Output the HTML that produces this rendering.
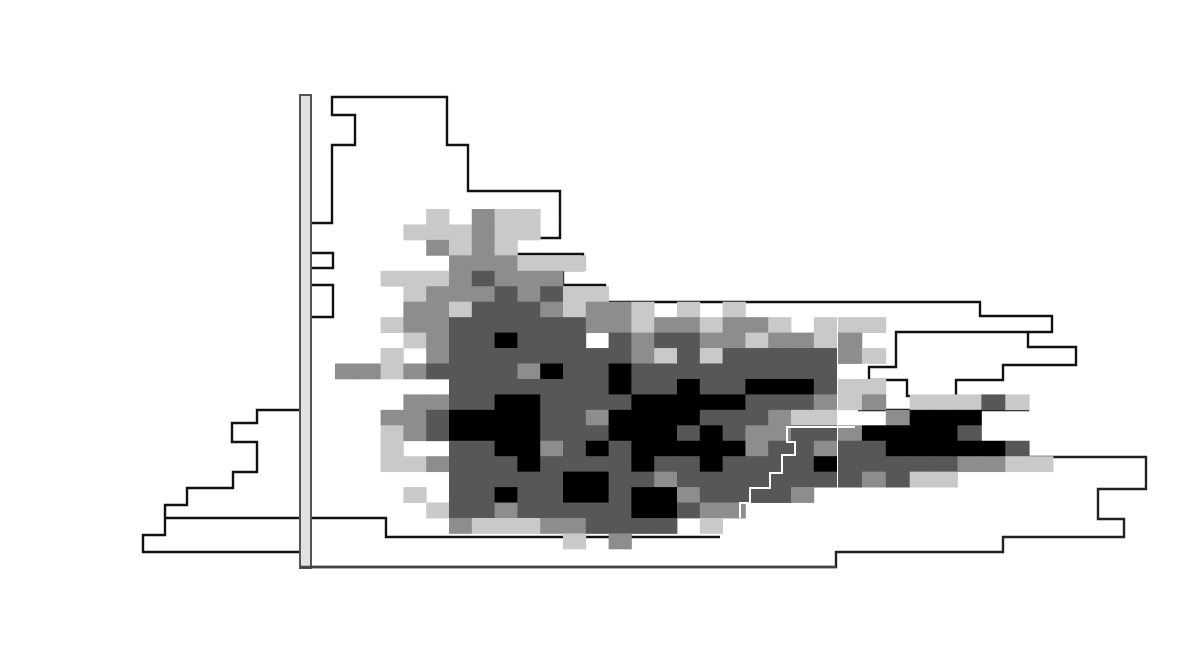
<!DOCTYPE html>
<html><head><meta charset="utf-8">
<style>
html,body{margin:0;padding:0;background:#fff;}
svg{display:block;}
</style></head>
<body>
<svg id="chart" width="1200" height="650" viewBox="0 0 1200 650">
  <rect x="0" y="0" width="1200" height="650" fill="#fff"/>
  <g id="outlines"></g>
  <g id="cells"></g>
  <g id="over"></g>
</svg>
<script>
// ---- heatmap data (levels 0..4 per cell) ----
const gridARows = [
"0000102110000000000000",
"0001112110000000000000",
"0000212100000000000000",
"0000022211100000000000",
"0011123222000000000000",
"0001222323110000000000",
"0002213332122101010000",
"0012233333322122122101",
"0001233433303233221221",
"0010233333333213133333",
"2212333324334333333333",
"0000033333334334334443",
"0002233443333444443332",
"0022344443324444333211",
"0012344443334443432233",
"0010033442343444442332",
"0011233343333433433334",
"0000033333443323333333",
"0001033433443442333320",
"0000133233333443220000",
"0000021112233330100000",
"0000000000102000000000"
];
const gridBStartRow = 7;
const gridBRows = [
"110000000",
"200000000",
"210000000",
"000000000",
"110000000",
"120111310",
"002444000",
"244443000",
"334444430",
"333332211",
"323110000"
];
const levelColors = ["none","#c9c9c9","#8d8d8d","#575757","#000000"];

// ---- marginal histogram data (bin edges and extents, in axis units) ----
const leftHistEdges = [410,423,442,472,488,505,518,535,552];
const leftHistLengths = [43,68,43,67,113,135,135,157];
const rightHistEdges = [97,145,191,238,254,270,285,302,316,332,347,365,380,396,410];
const rightHistExtents = [136,157,249,204,272,252,294,669,741,717,765,692,645,717];
const bottomHistEdges = [442,457,489,519,537,552,567];
const bottomHistExtents = [696,835,787,813,692,525,0];
const lowerHistEdges = [518,537];
const lowerHistExtents = [75,409];
const innerStepEdges = [332,367,380,396,410];
const innerStepExtents = [585,558,596,624];

// ---- axis functions ----
const AX = {x0:335, cw:22.8, y0:209, rh:15.45};
const BX = {x0:838, cw:23.9};
const BASE_X = 311;
function colAX(c){return AX.x0 + c*AX.cw;}
function colBX(c){return BX.x0 + c*BX.cw;}
function rowY(r){return AX.y0 + r*AX.rh;}
function histX(v){return BASE_X + v;}
function histLeftX(v){return 300 - v;}
function histY(v){return v;}

const NS = "http://www.w3.org/2000/svg";
const cellsG = document.getElementById('cells');
const outG = document.getElementById('outlines');
const overG = document.getElementById('over');

function addCell(x,w,r,lvl){
  if(lvl===0) return;
  const rc = document.createElementNS(NS,'rect');
  rc.setAttribute('x', x.toFixed(2));
  rc.setAttribute('y', rowY(r).toFixed(2));
  rc.setAttribute('width', (w+0.4).toFixed(2));
  rc.setAttribute('height', (AX.rh+0.4).toFixed(2));
  rc.setAttribute('fill', levelColors[lvl]);
  
  
  cellsG.appendChild(rc);
}
gridARows.forEach((row,r)=>{
  for(let c=0;c<row.length;c++) addCell(colAX(c), AX.cw, r, +row[c]);
});
gridBRows.forEach((row,i)=>{
  for(let c=0;c<row.length;c++) addCell(colBX(c), BX.cw, i+gridBStartRow, +row[c]);
});

function addPath(d, name, color, w){
  const p = document.createElementNS(NS,'path');
  p.setAttribute('d', d);
  p.setAttribute('fill','none');
  p.setAttribute('stroke', color || '#111');
  p.setAttribute('stroke-width', w || 2.4);
  p.setAttribute('stroke-linejoin','miter');
  
  
  outG.appendChild(p);
}
function stepSegs(edges, xs, xf){
  let d = '';
  for(let i=0;i<xs.length;i++){
    d += ' H'+xf(xs[i]).toFixed(1)+' V'+histY(edges[i+1]);
  }
  return d;
}
// left histogram
addPath('M300,'+leftHistEdges[0]+stepSegs(leftHistEdges, leftHistLengths, histLeftX)+' H300', 'left-histogram');
// right (y-marginal) histogram
addPath('M'+histX(0)+',223 H332 V145 H355 V115 H332 V'+rightHistEdges[0]+
  stepSegs(rightHistEdges, rightHistExtents, histX) + ' H858', 'right-histogram');
// bottom-right histogram
addPath('M1007,'+bottomHistEdges[0]+stepSegs(bottomHistEdges, bottomHistExtents, histX), 'bottom-histogram', '#222');
// lower step line
addPath('M165,'+lowerHistEdges[0]+stepSegs(lowerHistEdges, lowerHistExtents, histX), 'lower-histogram');
// inner steps
addPath('M1028,'+innerStepEdges[0]+' H'+histX(innerStepExtents[0])+' V'+innerStepEdges[1]+
  stepSegs(innerStepEdges.slice(1), innerStepExtents.slice(1), histX), 'inner-histogram');
// small boxes by the axis
addPath('M311,253 H333 V268 H311 M311,285 H333 V317 H311', 'axis-boxes');

// axis bar
const bar = document.createElementNS(NS,'rect');
bar.setAttribute('x','300'); bar.setAttribute('y','95');
bar.setAttribute('width','11'); bar.setAttribute('height','473');
bar.setAttribute('fill','#e2e2e2'); bar.setAttribute('stroke','#555'); bar.setAttribute('stroke-width','2');


overG.appendChild(bar);
// bottom axis line
const base = document.createElementNS(NS,'path');
base.setAttribute('d','M300,567 H836');
base.setAttribute('stroke','#444'); base.setAttribute('stroke-width','2.5'); base.setAttribute('fill','none');


overG.appendChild(base);
// white boundary zigzag
const zz = document.createElementNS(NS,'path');
zz.setAttribute('d','M855,427 H787 V442 H795 V455 H782 V473 H770 V488 H750 V503 H740 V518');
zz.setAttribute('stroke','#fff'); zz.setAttribute('stroke-width','2'); zz.setAttribute('fill','none');


overG.appendChild(zz);
</script>
</body></html>
